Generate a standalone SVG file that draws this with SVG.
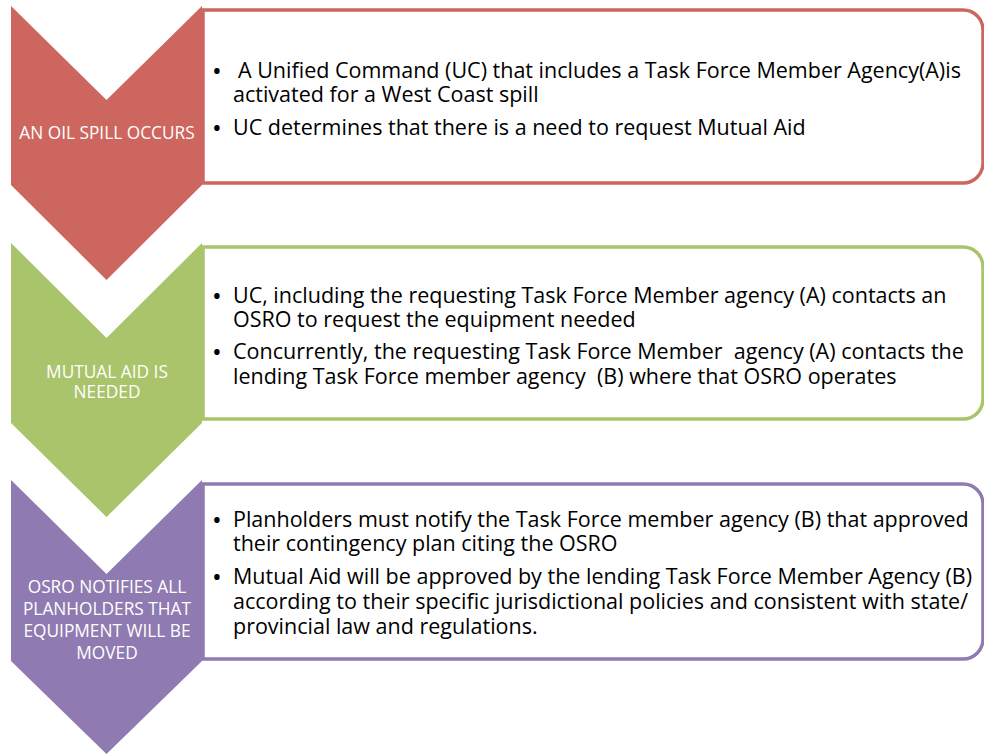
<svg xmlns="http://www.w3.org/2000/svg" width="984" height="755" viewBox="0 0 984 755">
<style>
.box{fill:#fff;stroke-width:3.5}
.r{fill:#CD665F;stroke:#CD665F}
.g{fill:#AAC46B;stroke:#AAC46B}
.p{fill:#8F7AB1;stroke:#8F7AB1}
.chev{stroke:none}
.lbl{font-family:"Open Sans","Liberation Sans",sans-serif;font-size:17.3px;fill:#fff;text-anchor:middle}
.body{font-family:"Open Sans","Liberation Sans",sans-serif;font-size:21.5px;fill:#000;white-space:pre}
.b{font-size:26px}
</style>
<rect width="984" height="755" fill="#fff"/>
<g id="box1">
<path class="box" stroke="#CD665F" d="M203,10 H963 A20,20 0 0 1 983,30 V163 A20,20 0 0 1 963,183 H203 Z"/>
<text class="body"><tspan class="b" x="212" y="80">•</tspan><tspan x="238" y="78">A Unified Command (UC) that includes a Task Force Member Agency(A)is</tspan><tspan x="233" y="102">activated for a West Coast spill</tspan><tspan class="b" x="212" y="137">•</tspan><tspan x="233" y="135">UC determines that there is a need to request Mutual Aid</tspan></text>
</g>
<g id="box2">
<path class="box" stroke="#AAC46B" d="M203,247 H963 A20,20 0 0 1 983,267 V399 A20,20 0 0 1 963,419 H203 Z"/>
<text class="body"><tspan class="b" x="212" y="305">•</tspan><tspan x="233" y="303">UC, including the requesting Task Force Member agency (A) contacts an</tspan><tspan x="233" y="327">OSRO to request the equipment needed</tspan><tspan class="b" x="212" y="361">•</tspan><tspan x="233" y="359">Concurrently, the requesting Task Force Member  agency (A) contacts the</tspan><tspan x="233" y="384">lending Task Force member agency  (B) where that OSRO operates</tspan></text>
</g>
<g id="box3">
<path class="box" stroke="#8F7AB1" d="M203,484 H963 A20,20 0 0 1 983,504 V639 A20,20 0 0 1 963,659 H203 Z"/>
<text class="body"><tspan class="b" x="212" y="529">•</tspan><tspan x="233" y="527">Planholders must notify the Task Force member agency (B) that approved</tspan><tspan x="233" y="551">their contingency plan citing the OSRO</tspan><tspan class="b" x="212" y="586">•</tspan><tspan x="233" y="584">Mutual Aid will be approved by the lending Task Force Member Agency (B)</tspan><tspan x="233" y="609">according to their specific jurisdictional policies and consistent with state/</tspan><tspan x="233" y="634">provincial law and regulations.</tspan></text>
</g>
<g id="chevron1">
<path class="chev r" d="M11,6 L106.5,100 L202,6 L202,185 L106.5,280 L11,185 Z"/>
<text class="lbl" x="107" y="139">AN OIL SPILL OCCURS</text>
</g>
<g id="chevron2">
<path class="chev g" d="M11,243 L106.5,338 L202,243 L202,423 L106.5,517 L11,423 Z"/>
<text class="lbl"><tspan x="107" y="378">MUTUAL AID IS</tspan><tspan x="107" y="398">NEEDED</tspan></text>
</g>
<g id="chevron3">
<path class="chev p" d="M11,480 L106.5,574 L202,480 L202,661 L106.5,754 L11,661 Z"/>
<text class="lbl"><tspan x="107" y="593">OSRO NOTIFIES ALL</tspan><tspan x="107" y="615">PLANHOLDERS THAT</tspan><tspan x="107" y="637">EQUIPMENT WILL BE</tspan><tspan x="107" y="659">MOVED</tspan></text>
</g>
<g id="connectors"></g>
</svg>
